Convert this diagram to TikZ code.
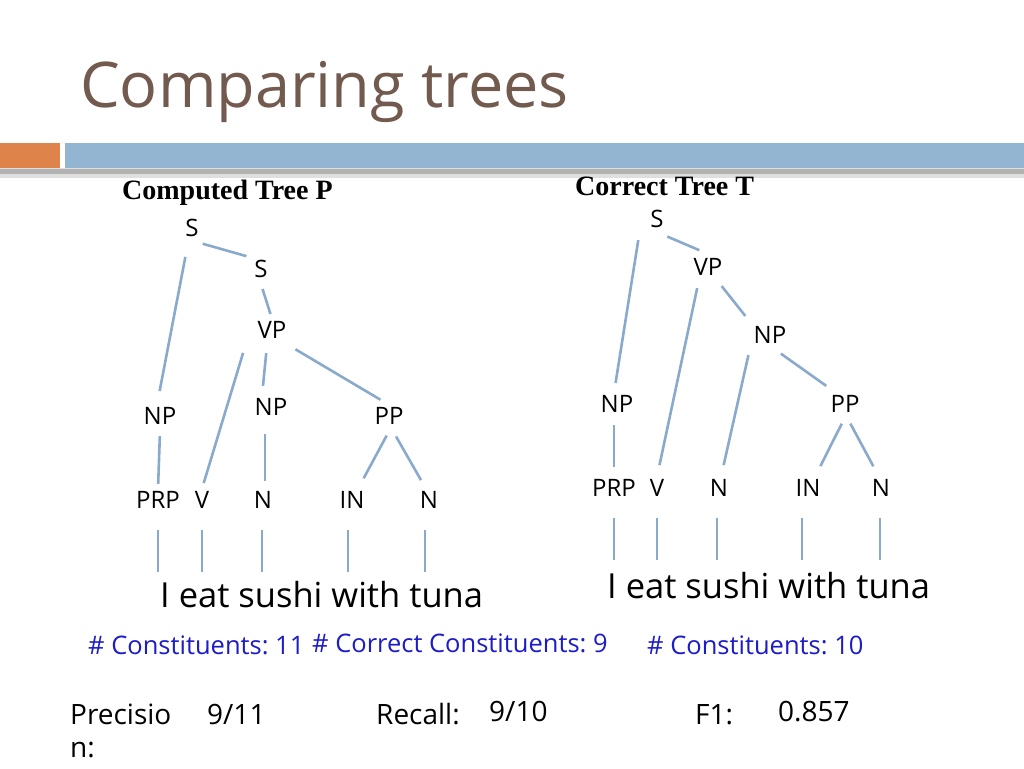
\documentclass[tikz,border=0pt]{standalone}
\usepackage{fontspec}
\setmainfont{Open Sans}
\newfontfamily\hdrfont{Liberation Serif}
\frenchspacing
\definecolor{titlebrown}{RGB}{114,90,79}
\definecolor{barblue}{RGB}{147,181,210}
\definecolor{barorange}{RGB}{222,131,74}
\definecolor{branchblue}{RGB}{138,170,205}
\definecolor{countblue}{RGB}{28,28,200}
\tikzset{
  lbl/.style={anchor=base,inner sep=2pt,text height=17pt,text depth=5pt,
    font=\fontsize{24}{28}\selectfont},
  branch/.style={draw=branchblue,line width=2.6pt},
  leafline/.style={draw=branchblue,line width=2.6pt},
  hdr/.style={anchor=base west,inner sep=0pt,font=\hdrfont\bfseries\fontsize{28}{32}\selectfont},
  sent/.style={anchor=base west,inner sep=0pt,font=\fontsize{34.5}{40}\selectfont},
  count/.style={anchor=base west,inner sep=0pt,text=countblue,font=\fontsize{25.5}{30}\selectfont},
  score/.style={anchor=base west,inner sep=0pt,font=\fontsize{28}{33}\selectfont}
}
\begin{document}
\begin{tikzpicture}[x=1pt,y=-1pt]
  \useasboundingbox (0,0) rectangle (1024,768);
  \fill[white] (0,0) rectangle (1024,768);
  \node[anchor=base west,inner sep=0pt,text=titlebrown,font=\fontsize{63}{70}\selectfont] (title) at (80,107) {Comparing trees};
  \fill[gray!25] (0,168) rectangle (1024,178);
  \fill[gray!60] (0,169) rectangle (1024,174);
  \fill[barorange] (0,143) rectangle (60,168);
  \fill[barblue] (65,143) rectangle (1024,168);
  \node[hdr] (hdrP) at (122,199) {Computed Tree P};
  \node[hdr] (hdrT) at (575,195) {Correct Tree T};
  % computed tree
  \node[lbl] (sP1) at (192,236) {S};
  \node[lbl] (sP2) at (261,277) {S};
  \node[lbl] (vpP) at (272,338) {VP};
  \node[lbl] (npP1) at (160,424) {NP};
  \node[lbl] (npP2) at (271,415) {NP};
  \node[lbl] (ppP) at (389,424) {PP};
  \node[lbl] (prpP) at (158,508) {PRP};
  \node[lbl] (vP) at (202,508) {V};
  \node[lbl] (nP1) at (263,508) {N};
  \node[lbl] (inP) at (352,508) {IN};
  \node[lbl] (nP2) at (429,508) {N};
  \draw[branch,shorten <=14pt,shorten >=14pt] ([xshift=-4pt]sP1.south) -- ([xshift=-3pt]npP1.north);
  \draw[branch,shorten <=2pt,shorten >=6pt] (sP1.south east) -- (sP2.north west);
  \draw[branch,shorten <=5pt,shorten >=5pt] (sP2.south) -- (vpP.north);
  \draw[branch,shorten <=8pt,shorten >=6pt] ([xshift=-10pt]vpP.south west) -- (vP.north);
  \draw[branch,shorten <=8pt,shorten >=10pt] ([xshift=-5pt]vpP.south) -- ([xshift=-9pt]npP2.north);
  \draw[branch,shorten <=8pt,shorten >=10pt] (vpP.south east) -- (ppP.north);
  \draw[branch,shorten <=5pt,shorten >=5pt] (npP1.south) -- (prpP.north);
  \draw[branch,shorten <=12pt,shorten >=8pt] ([xshift=-6pt]npP2.south) -- ([xshift=2pt]nP1.north);
  \draw[branch,shorten <=5pt,shorten >=12pt] (ppP.south) -- ([xshift=6pt]inP.north);
  \draw[branch,shorten <=6pt,shorten >=10pt] ([xshift=4pt]ppP.south) -- ([xshift=-3pt]nP2.north);
  \foreach \leaf/\dx in {prpP/0,vP/0,nP1/-1,inP/-4,nP2/-4}
    \draw[leafline] ([xshift=\dx pt,yshift=-15pt]\leaf.south) -- ++(0,42);
  \node[sent] (sentP) at (160,607) {I eat sushi with tuna};
  % correct tree
  \node[lbl] (sT) at (657,227) {S};
  \node[lbl] (vpT) at (708,275) {VP};
  \node[lbl] (npT2) at (770,343) {NP};
  \node[lbl] (npT1) at (617,412) {NP};
  \node[lbl] (ppT) at (845,412) {PP};
  \node[lbl] (prpT) at (614,496) {PRP};
  \node[lbl] (vT) at (657,496) {V};
  \node[lbl] (nT1) at (719,496) {N};
  \node[lbl] (inT) at (808,496) {IN};
  \node[lbl] (nT2) at (881,496) {N};
  \draw[branch,shorten <=6pt,shorten >=10pt] ([xshift=-9pt]sT.south west) -- ([xshift=-3pt]npT1.north);
  \draw[branch,shorten <=6pt,shorten >=4pt] ([xshift=-4pt]sT.south east) -- ([xshift=-5pt,yshift=4pt]vpT.north);
  \draw[branch,shorten <=6pt,shorten >=12pt] ([xshift=7pt]vpT.south west) -- (vT.north);
  \draw[branch,shorten <=5pt,shorten >=10pt] ([xshift=-6pt]vpT.south east) -- (npT2.north west);
  \draw[branch,shorten <=5pt,shorten >=12pt] ([xshift=-2pt]npT2.south west) -- ([xshift=2pt]nT1.north);
  \draw[branch,shorten <=6pt,shorten >=12pt] ([xshift=6pt]npT2.south) -- ([xshift=-9pt]ppT.north);
  \draw[branch,shorten <=6pt,shorten >=10pt] ([xshift=-3pt]npT1.south) -- (prpT.north);
  \draw[branch,shorten <=5pt,shorten >=12pt] ([xshift=-1pt]ppT.south) -- ([xshift=7pt]inT.north);
  \draw[branch,shorten <=5pt,shorten >=12pt] ([xshift=3pt]ppT.south) -- ([xshift=-2pt]nT2.north);
  \foreach \leaf/\dx in {prpT/0,vT/0,nT1/-2,inT/-6,nT2/-1}
    \draw[leafline] ([xshift=\dx pt,yshift=-15pt]\leaf.south) -- ++(0,42);
  \node[sent] (sentT) at (607,598) {I eat sushi with tuna};
  % counts and scores
  \node[count] (cntP) at (88,654) {\# Constituents: 11};
  \node[count] (cntOk) at (312,652) {\# Correct Constituents: 9};
  \node[count] (cntT) at (647,654) {\# Constituents: 10};
  \node[score] (precLbl) at (70,724) {Precisio};
  \node[score] (precLbl2) at (70,757) {n:};
  \node[score] (precVal) at (207,724) {9/11};
  \node[score] (recLbl) at (376,724) {Recall:};
  \node[score] (recVal) at (489,721) {9/10};
  \node[score] (fLbl) at (695,724) {F1:};
  \node[score] (fVal) at (778,721) {0.857};
\end{tikzpicture}
\end{document}
